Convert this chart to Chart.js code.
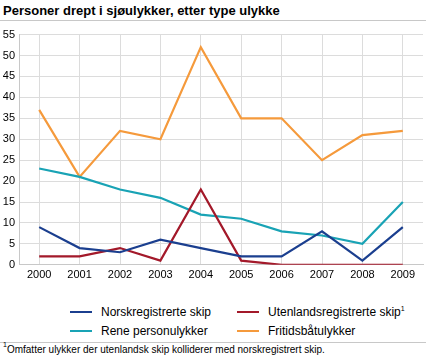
<!DOCTYPE html>
<html><head><meta charset="utf-8">
<script src="https://cdn.jsdelivr.net/npm/chart.js@4/dist/chart.umd.min.js"></script>
<style>
html,body{margin:0;padding:0;background:#fff;width:426px;height:358px;overflow:hidden;font-family:"Liberation Sans",Arial,sans-serif;}
#title{position:absolute;left:3px;top:3px;font-size:13px;font-weight:bold;color:#000;}
#tline{position:absolute;left:0;top:20px;width:426px;height:1px;background:#c8c8c8;}
#wrap{position:absolute;left:0;top:24px;width:426px;height:264px;}
#legend{position:absolute;left:0;top:304px;width:426px;font-size:12px;color:#000;}
.item{position:absolute;height:16px;line-height:16px;white-space:nowrap;}
.sw{position:absolute;left:0;top:7px;width:22px;height:2px;}
.lt{position:absolute;left:31px;top:0;}
#fline{position:absolute;left:0;top:342px;width:426px;height:1px;background:#c8c8c8;}
#foot{position:absolute;left:3px;top:344px;font-size:10px;color:#000;white-space:nowrap;}
sup{font-size:7px;vertical-align:top;position:relative;top:-3px;}
</style></head>
<body>
<div id="title">Personer drept i sjøulykker, etter type ulykke</div>
<div id="tline"></div>
<div id="wrap"><canvas id="c"></canvas></div>
<div id="legend"></div>
<div id="fline"></div>
<div id="foot"><sup>1</sup>Omfatter ulykker der utenlandsk skip kolliderer med norskregistrert skip.</div>
<script>
const years = ["2000","2001","2002","2003","2004","2005","2006","2007","2008","2009"];
const norsk = [9,4,3,6,4,2,2,8,1,9];
const utenlands = [2,2,4,1,18,1,0,0,0,0];
const rene = [23,21,18,16,12,11,8,7,5,15];
const fritids = [37,21,32,30,52,35,35,25,31,32];
const yTicks = [0,5,10,15,20,25,30,35,40,45,50,55];

const series = [
  {label:"Norskregistrerte skip", data:norsk, color:"#1b3f8f", pos:[70,0]},
  {label:"Utenlandsregistrerte skip", sup:"1", data:utenlands, color:"#a3192a", pos:[237,0]},
  {label:"Rene personulykker", data:rene, color:"#19a3b5", pos:[70,19]},
  {label:"Fritidsbåtulykker", data:fritids, color:"#f59a3c", pos:[237,19]}
];

const lg = document.getElementById('legend');
series.forEach(s=>{
  const d=document.createElement('div');d.className='item';
  d.style.left=s.pos[0]+'px';d.style.top=s.pos[1]+'px';
  d.innerHTML='<div class="sw" style="background:'+s.color+'"></div><span class="lt">'+s.label+(s.sup?'<sup>'+s.sup+'</sup>':'')+'</span>';
  lg.appendChild(d);
});

const canvas=document.getElementById('c');
canvas.width=426;canvas.height=264;
new Chart(canvas,{
  type:'line',
  data:{labels:years,datasets:series.map(s=>({label:s.label,data:s.data,borderColor:s.color,backgroundColor:s.color,borderWidth:2.2,pointRadius:0,tension:0,fill:false}))},
  options:{
    responsive:false,animation:false,
    layout:{padding:{left:0,right:3,top:4,bottom:2}},
    plugins:{legend:{display:false},tooltip:{enabled:false}},
    scales:{
      x:{type:'category',offset:true,
        grid:{offset:false,color:'#dcdcdc',lineWidth:1,drawTicks:false},
        border:{color:'#c8c8c8'},
        ticks:{color:'#000',font:{family:'"Liberation Sans", Arial',size:11},padding:4,maxRotation:0,autoSkip:false}},
      y:{min:0,max:55,
        afterBuildTicks:ax=>{ax.ticks=yTicks.map(v=>({value:v}));},
        afterFit:ax=>{ax.width=19;},
        grid:{color:'#dcdcdc',lineWidth:1,drawTicks:false},
        border:{color:'#c8c8c8'},
        ticks:{color:'#000',font:{family:'"Liberation Sans", Arial',size:11},padding:4}}
    }
  }
});
</script>
</body></html>
